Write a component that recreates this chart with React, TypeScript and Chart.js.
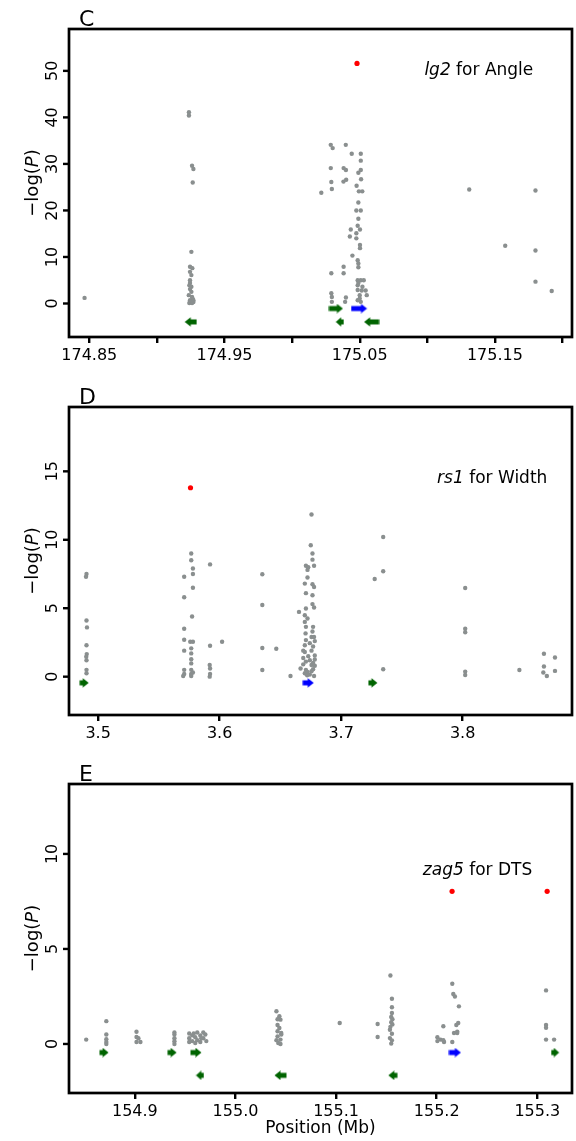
import React, { useEffect, useRef } from "react";
import { Chart, registerables } from "chart.js";

Chart.register(...registerables);

const FONT = '"DejaVu Sans", "Liberation Sans", Arial, sans-serif';
const GRAY = "#8a8f8f";
const RED = "#ff0000";
const BLUE = "#0000ff";
const GREEN = "#006400";

// ---------------- Panel C : lg2 for Angle ----------------
const cGrayX = [
  174.8465,
  174.9237, 174.9237, 174.926, 174.927, 174.9265, 174.9255, 174.9245, 174.9262, 174.9245, 174.9255,
  174.9245, 174.9245, 174.924, 174.9255, 174.9245, 174.9255, 174.9236, 174.926, 174.9265, 174.9245,
  174.927, 174.925, 174.927, 174.924, 174.926,
  175.0286, 175.03, 175.0397, 175.0441, 175.0508, 175.0508, 175.0286, 175.0381, 175.0398, 175.049,
  175.0508, 175.051, 175.029, 175.038, 175.04, 175.0294, 175.0216, 175.0477, 175.0494, 175.0519,
  175.049, 175.0475, 175.0508, 175.049, 175.0485, 175.0502, 175.0434, 175.0475, 175.0427, 175.0475,
  175.0502, 175.0502, 175.0446, 175.0485, 175.049, 175.049, 175.0381, 175.0381, 175.029, 175.0485,
  175.0508, 175.053, 175.0485, 175.052, 175.0485, 175.0515, 175.0544, 175.05, 175.0552, 175.029,
  175.0294, 175.0398, 175.0392, 175.0485, 175.0508, 175.0294, 175.049, 175.05,
  175.131, 175.1576, 175.18, 175.18, 175.18, 175.192,
];
const cGrayY = [
  1.2,
  41.1, 40.4, 29.6, 28.9, 26.0, 11.1, 7.9, 7.6, 6.8, 6.1,
  5.0, 4.4, 3.9, 3.6, 3.1, 2.5, 1.8, 1.4, 1.0, 0.7,
  0.7, 0.4, 0.3, 0.1, 0.1,
  34.1, 33.4, 34.1, 32.2, 32.2, 30.7, 29.1, 29.1, 28.7, 28.1,
  28.7, 26.7, 26.1, 26.2, 26.6, 24.6, 23.8, 25.3, 24.1, 24.1,
  21.7, 20.0, 20.0, 18.2, 16.7, 15.9, 15.9, 15.1, 14.4, 14.0,
  12.6, 11.9, 10.3, 9.3, 8.6, 7.8, 7.9, 6.5, 6.5, 5.0,
  5.0, 5.0, 3.9, 3.6, 2.9, 2.8, 2.8, 1.8, 1.8, 2.2,
  1.4, 1.3, 0.35, 0.7, 0.35, 0.35, 4.4, 1.1,
  24.5, 12.4, 24.3, 11.4, 4.7, 2.7,
];
const cRedX = [175.048];
const cRedY = [51.6];
const cBlueX = [175.0495];
const cBlueY = [-1.08];
const cBlueLen = [0.0118];
const cGreenRightX = [175.0324];
const cGreenRightY = [-1.08];
const cGreenRightLen = [0.0103];
const cGreenLeftX = [174.925, 175.0353, 175.0588];
const cGreenLeftY = [-3.96, -3.96, -3.96];
const cGreenLeftLen = [0.0086, 0.0061, 0.0108];
const cXTicks = [174.85, 174.9, 174.95, 175.0, 175.05, 175.1, 175.15, 175.2];
const cXLabels = ["174.85", "174.95", "175.05", "175.15"];
const cYTicks = [0, 10, 20, 30, 40, 50];

// ---------------- Panel D : rs1 for Width ----------------
const dGrayX = [
  3.4904, 3.49, 3.4904, 3.4908, 3.4904, 3.4906, 3.4902, 3.4904, 3.4904, 3.4904,
  3.5708, 3.5708, 3.5708, 3.5708, 3.5708, 3.5708, 3.5708, 3.57,
  3.5766, 3.5766, 3.578, 3.578, 3.578, 3.5773, 3.5758, 3.578, 3.5766, 3.5766, 3.5766, 3.5766, 3.5766, 3.5766, 3.578, 3.5766,
  3.5921, 3.5921, 3.5918, 3.5921, 3.5921, 3.5918,
  3.602,
  3.6351, 3.6351, 3.6351, 3.6351,
  3.6466, 3.6583,
  3.6756, 3.675, 3.6764, 3.6764, 3.671, 3.6729, 3.6777, 3.6723, 3.6723, 3.6701,
  3.6764, 3.6777, 3.671, 3.6764, 3.6764, 3.6777, 3.6653, 3.671, 3.6701, 3.6723,
  3.671, 3.6769, 3.6707, 3.6756, 3.6777, 3.671, 3.6742, 3.6769, 3.6701, 3.6756,
  3.6783, 3.6688, 3.671, 3.6742, 3.6688, 3.6756, 3.6783, 3.6666, 3.671, 3.6769,
  3.6701, 3.6742, 3.6777, 3.672, 3.6701, 3.6783, 3.6729, 3.6769, 3.6723, 3.6688,
  3.6764, 3.6701, 3.6783, 3.6756,
  3.7276, 3.7346, 3.7346, 3.7346,
  3.8021, 3.8021, 3.8021, 3.8021, 3.8021,
  3.8467,
  3.8669, 3.8669, 3.8664, 3.8693,
  3.876, 3.876,
];
const dGrayY = [
  7.5, 7.3, 4.1, 3.6, 2.3, 1.65, 1.45, 1.2, 0.5, 0.25,
  7.3, 5.8, 3.5, 2.7, 1.9, 0.5, 0.2, 0.05,
  9.0, 8.5, 7.9, 7.5, 6.5, 4.4, 2.55, 2.55, 2.07, 1.7, 1.27, 0.97, 0.5, 0.2, 0.3, 0.05,
  8.2, 2.26, 0.85, 0.6, 0.2, 0.0,
  2.55,
  7.48, 5.24, 2.09, 0.49,
  2.04, 0.05,
  11.85, 9.6, 9.0, 8.55, 8.1, 8.0, 8.1, 7.8, 7.24, 6.8,
  6.75, 6.55, 6.1, 5.95, 5.3, 5.05, 4.73, 4.98, 4.49, 4.25,
  3.64, 3.64, 3.16, 2.9, 2.9, 2.67, 2.45, 2.2, 1.8, 1.9,
  1.55, 1.36, 1.1, 1.2, 0.9, 0.85, 0.8, 0.6, 0.5, 0.55,
  0.25, 0.15, 0.05, 0.1, 2.3, 2.6, 1.5, 1.0, 0.35, 1.9,
  3.3, 4.0, 1.25, 0.4,
  7.14, 10.2, 7.7, 0.54,
  6.48, 3.5, 3.25, 0.37, 0.12,
  0.49,
  1.67, 0.74, 0.3, 0.05,
  1.4, 0.42,
];
const dRedX = [3.576];
const dRedY = [13.8];
const dBlueX = [3.6729];
const dBlueY = [-0.45];
const dBlueLen = [0.009];
const dGreenRightX = [3.4885, 3.7261];
const dGreenRightY = [-0.45, -0.45];
const dGreenRightLen = [0.007, 0.0072];
const dGreenLeftX: number[] = [];
const dGreenLeftY: number[] = [];
const dGreenLeftLen: number[] = [];
const dXTicks = [3.5, 3.6, 3.7, 3.8];
const dXLabels = ["3.5", "3.6", "3.7", "3.8"];
const dYTicks = [0, 5, 10, 15];

// ---------------- Panel E : zag5 for DTS ----------------
const eGrayX = [
  154.8516,
  154.8716, 154.8716, 154.8716, 154.8716, 154.8716,
  154.9016, 154.9016, 154.9016, 154.9055, 154.9035,
  154.9393, 154.9393, 154.9393, 154.9393, 154.9393,
  154.954, 154.954, 154.954, 154.957, 154.957, 154.96, 154.96, 154.962, 154.962, 154.965,
  154.965, 154.968, 154.968, 154.97, 154.971, 154.9585, 154.966,
  155.0407, 155.0436, 155.0447, 155.0418, 155.0436, 155.0418, 155.0455, 155.0418, 155.0447, 155.0425,
  155.0447, 155.0418, 155.0455, 155.0407,
  155.1036,
  155.1413, 155.1413,
  155.154, 155.1555, 155.1555, 155.1555, 155.1548, 155.1548, 155.156, 155.1535, 155.1555, 155.1535,
  155.1555, 155.1548, 155.154, 155.156,
  155.2066, 155.2007, 155.2039, 155.2073, 155.2007, 155.2155, 155.2165, 155.2181, 155.2221, 155.2214,
  155.2195, 155.2204, 155.2172, 155.2204, 155.2155, 155.2066,
  155.3087, 155.3087, 155.3087, 155.3087, 155.3167,
];
const eGrayY = [
  0.23,
  1.2, 0.5, 0.25, 0.1, 0.0,
  0.64, 0.37, 0.1, 0.1, 0.3,
  0.61, 0.5, 0.3, 0.14, 0.0,
  0.55, 0.3, 0.1, 0.45, 0.15, 0.35, 0.05, 0.6, 0.2, 0.45,
  0.1, 0.6, 0.3, 0.5, 0.15, 0.55, 0.3,
  1.72, 1.46, 1.28, 1.0, 0.84, 0.67, 0.58, 0.4, 0.23, 0.05,
  0.0, 1.3, 0.5, 0.2,
  1.1,
  1.05, 0.37,
  3.6, 2.38, 1.93, 1.63, 1.42, 1.14, 1.03, 0.75, 0.54, 0.31,
  0.19, 0.02, 0.9, 1.3,
  0.93, 0.35, 0.23, 0.1, 0.15, 3.17, 2.63, 2.5, 1.98, 1.1,
  1.0, 0.65, 0.58, 0.58, 0.1, 0.2,
  2.82, 1.0, 0.85, 0.23, 0.23,
];
const eRedX = [155.2153, 155.3098];
const eRedY = [8.03, 8.03];
const eBlueX = [155.2181];
const eBlueY = [-0.45];
const eBlueLen = [0.0116];
const eGreenRightX = [154.8693, 154.937, 154.9607, 155.3177];
const eGreenRightY = [-0.45, -0.45, -0.45, -0.45];
const eGreenRightLen = [0.0092, 0.0089, 0.0109, 0.0082];
const eGreenLeftX = [154.9647, 155.0447, 155.1564];
const eGreenLeftY = [-1.65, -1.65, -1.65];
const eGreenLeftLen = [0.0079, 0.0116, 0.0086];
const eXTicks = [154.9, 155.0, 155.1, 155.2, 155.3];
const eXLabels = ["154.9", "155.0", "155.1", "155.2", "155.3"];
const eYTicks = [0, 5, 10];

const zip = (xs: number[], ys: number[]) => xs.map((x, i) => ({ x, y: ys[i] }));
const zipLen = (xs: number[], ys: number[], ls: number[]) => xs.map((x, i) => ({ x, y: ys[i], len: ls[i] }));

const arrowCache = new Map<string, HTMLCanvasElement>();
function makeArrow(color: string, dir: "left" | "right", wIn: number) {
  const W = Math.max(7, Math.round(wIn));
  const key = `${color}|${dir}|${W}`;
  const hit = arrowCache.get(key);
  if (hit) return hit;
  const H = 10;
  const c = document.createElement("canvas");
  c.width = W + 1;
  c.height = H;
  const g = c.getContext("2d")!;
  const cy = H / 2;
  const hl = Math.min(5.5, W * 0.6);
  const st = 2.6;
  const hh = 4.7;
  const pts = [
    [0.5, cy - st],
    [W - hl, cy - st],
    [W - hl, cy - hh],
    [W + 0.5, cy],
    [W - hl, cy + hh],
    [W - hl, cy + st],
    [0.5, cy + st],
  ];
  g.fillStyle = color;
  g.beginPath();
  pts.forEach(([x, y], i) => {
    const px = dir === "right" ? x : W + 1 - x;
    if (i === 0) g.moveTo(px, y);
    else g.lineTo(px, y);
  });
  g.closePath();
  g.fill();
  arrowCache.set(key, c);
  return c;
}

function arrowStyle(color: string, dir: "left" | "right") {
  return (ctx: any) => {
    const raw = ctx.raw;
    const xs = ctx.chart.scales.x;
    if (!raw || !xs) return "circle";
    const w = Math.abs(xs.getPixelForValue(raw.x + raw.len / 2) - xs.getPixelForValue(raw.x - raw.len / 2));
    return makeArrow(color, dir, w);
  };
}

type Part = { t: string; i: boolean };
function drawParts(ctx: CanvasRenderingContext2D, parts: Part[], size: number, x: number, y: number, align: "left" | "center" | "right") {
  const fonts = parts.map((p) => `${p.i ? "italic " : ""}${size}px ${FONT}`);
  const widths = parts.map((p, k) => {
    ctx.font = fonts[k];
    return ctx.measureText(p.t).width;
  });
  const total = widths.reduce((s, v) => s + v, 0);
  let cx = align === "left" ? x : align === "center" ? x - total / 2 : x - total;
  ctx.textAlign = "left";
  ctx.textBaseline = "alphabetic";
  parts.forEach((p, k) => {
    ctx.font = fonts[k];
    ctx.fillText(p.t, cx, y);
    cx += widths[k];
  });
}

const decorPlugin = {
  id: "decor",
  afterDraw(chart: any, _args: any, o: any) {
    const { ctx, chartArea: a } = chart;
    const ys = chart.scales.y;
    ctx.save();
    ctx.fillStyle = "#000";
    ctx.strokeStyle = "#000";
    ctx.lineWidth = 2.4;
    ys.ticks.forEach((t: any) => {
      const py = ys.getPixelForValue(t.value);
      ctx.beginPath();
      ctx.moveTo(a.left - 6, py);
      ctx.lineTo(a.left, py);
      ctx.stroke();
      ctx.save();
      ctx.translate(a.left - 12, py);
      ctx.rotate(-Math.PI / 2);
      ctx.font = `${o.tickSize}px ${FONT}`;
      ctx.textAlign = "center";
      ctx.textBaseline = "alphabetic";
      ctx.fillText(String(t.value), 0, 0);
      ctx.restore();
    });
    ctx.lineWidth = 2.7;
    ctx.strokeRect(a.left, a.top, a.right - a.left, a.bottom - a.top);
    ctx.save();
    ctx.translate(38, (a.top + a.bottom) / 2);
    ctx.rotate(-Math.PI / 2);
    drawParts(ctx, [
      { t: "\u2212log(", i: false },
      { t: "P", i: true },
      { t: ")", i: false },
    ], o.titleSize, 0, 0, "center");
    ctx.restore();
    ctx.font = `${o.letterSize}px ${FONT}`;
    ctx.textAlign = "left";
    ctx.textBaseline = "alphabetic";
    ctx.fillText(o.letter, a.left + 10, a.top - 3.5);
    drawParts(ctx, [
      { t: o.gene, i: true },
      { t: " for " + o.trait, i: false },
    ], o.annoSize, a.left + o.annoRight * (a.right - a.left), a.top + o.annoBase, "right");
    if (o.xTitle) {
      ctx.font = `${o.xTitleSize}px ${FONT}`;
      ctx.textAlign = "center";
      ctx.fillText(o.xTitle, (a.left + a.right) / 2, a.bottom + 40);
    }
    ctx.restore();
  },
};

type Series = [number[], number[]];
type ArrowSeries = [number[], number[], number[]];
type PanelDef = {
  letter: string;
  gene: string;
  trait: string;
  top: number;
  height: number;
  padTop: number;
  xMin: number;
  xMax: number;
  xTicks: number[];
  xDec: number;
  xLabels: string[];
  yMin: number;
  yMax: number;
  yTicks: number[];
  gray: Series;
  red: Series;
  blue: ArrowSeries;
  greenR: ArrowSeries;
  greenL: ArrowSeries;
  annoRight: number;
  annoBase: number;
  xTitle?: string;
};

const panelDefs: PanelDef[] = [
  {
    letter: "C", gene: "lg2", trait: "Angle", top: 0, height: 378, padTop: 29,
    xMin: 174.835, xMax: 175.207, xTicks: cXTicks, xDec: 2, xLabels: cXLabels,
    yMin: -7.2, yMax: 59, yTicks: cYTicks,
    gray: [cGrayX, cGrayY], red: [cRedX, cRedY], blue: [cBlueX, cBlueY, cBlueLen],
    greenR: [cGreenRightX, cGreenRightY, cGreenRightLen], greenL: [cGreenLeftX, cGreenLeftY, cGreenLeftLen],
    annoRight: 0.923, annoBase: 46,
  },
  {
    letter: "D", gene: "rs1", trait: "Width", top: 378, height: 378, padTop: 29,
    xMin: 3.476, xMax: 3.89, xTicks: dXTicks, xDec: 1, xLabels: dXLabels,
    yMin: -2.8, yMax: 19.7, yTicks: dYTicks,
    gray: [dGrayX, dGrayY], red: [dRedX, dRedY], blue: [dBlueX, dBlueY, dBlueLen],
    greenR: [dGreenRightX, dGreenRightY, dGreenRightLen], greenL: [dGreenLeftX, dGreenLeftY, dGreenLeftLen],
    annoRight: 0.951, annoBase: 76,
  },
  {
    letter: "E", gene: "zag5", trait: "DTS", top: 756, height: 385, padTop: 28,
    xMin: 154.8345, xMax: 155.3345, xTicks: eXTicks, xDec: 1, xLabels: eXLabels,
    yMin: -2.58, yMax: 13.68, yTicks: eYTicks,
    gray: [eGrayX, eGrayY], red: [eRedX, eRedY], blue: [eBlueX, eBlueY, eBlueLen],
    greenR: [eGreenRightX, eGreenRightY, eGreenRightLen], greenL: [eGreenLeftX, eGreenLeftY, eGreenLeftLen],
    annoRight: 0.921, annoBase: 91, xTitle: "Position (Mb)",
  },
];

function Panel({ def }: { def: PanelDef }) {
  const ref = useRef<HTMLCanvasElement>(null);
  useEffect(() => {
    const chartAreaBottom = 337;
    const arrowCommon = { pointRadius: 1, borderWidth: 0, pointBorderWidth: 0 };
    const chart = new Chart(ref.current!, {
      type: "scatter",
      data: {
        datasets: [
          { data: zip(def.red[0], def.red[1]), backgroundColor: RED, pointRadius: 2.6, borderWidth: 0, pointBorderWidth: 0 },
          { data: zipLen(def.blue[0], def.blue[1], def.blue[2]), pointStyle: arrowStyle(BLUE, "right"), ...arrowCommon },
          { data: zipLen(def.greenR[0], def.greenR[1], def.greenR[2]), pointStyle: arrowStyle(GREEN, "right"), ...arrowCommon },
          { data: zipLen(def.greenL[0], def.greenL[1], def.greenL[2]), pointStyle: arrowStyle(GREEN, "left"), ...arrowCommon },
          { data: zip(def.gray[0], def.gray[1]), backgroundColor: GRAY, pointRadius: 2.2, borderWidth: 0, pointBorderWidth: 0 },
        ],
      },
      options: {
        animation: false,
        responsive: false,
        events: [],
        clip: false,
        layout: { padding: { top: def.padTop, right: 2, left: 0, bottom: 0 } },
        plugins: {
          legend: { display: false },
          tooltip: { enabled: false },
          decor: {
            letter: def.letter, gene: def.gene, trait: def.trait,
            tickSize: 16, titleSize: 18, letterSize: 22, annoSize: 17, xTitleSize: 17,
            annoRight: def.annoRight, annoBase: def.annoBase, xTitle: def.xTitle,
          },
        } as any,
        scales: {
          x: {
            type: "linear",
            min: def.xMin,
            max: def.xMax,
            afterBuildTicks: (s: any) => {
              s.ticks = def.xTicks.map((v) => ({ value: v }));
            },
            afterFit: (s: any) => {
              s.height = def.height - chartAreaBottom;
              s.paddingLeft = 0;
              s.paddingRight = 0;
            },
            border: { display: false },
            grid: { drawOnChartArea: false, drawTicks: true, tickLength: 6, color: "#000", lineWidth: 2.4 },
            ticks: {
              autoSkip: false,
              maxRotation: 0,
              minRotation: 0,
              padding: 3,
              color: "#000",
              font: { family: FONT, size: 16 },
              callback: (v: any) => {
                const s = Number(v).toFixed(def.xDec);
                return def.xLabels.includes(s) ? s : "";
              },
            },
          },
          y: {
            type: "linear",
            min: def.yMin,
            max: def.yMax,
            afterBuildTicks: (s: any) => {
              s.ticks = def.yTicks.map((v) => ({ value: v }));
            },
            afterFit: (s: any) => {
              s.width = 69;
              s.paddingTop = 0;
              s.paddingBottom = 0;
            },
            border: { display: false },
            grid: { display: false },
            ticks: { display: false },
          },
        },
      },
      plugins: [decorPlugin as any],
    } as any);
    return () => chart.destroy();
  }, [def]);
  return (
    <canvas
      ref={ref}
      width={576}
      height={def.height}
      style={{ position: "absolute", left: 0, top: def.top, width: 576, height: def.height }}
    />
  );
}

export default function App() {
  return (
    <div style={{ position: "absolute", left: 0, top: 0, width: 576, height: 1141, background: "#fff" }}>
      {panelDefs.map((d) => (
        <Panel key={d.letter} def={d} />
      ))}
    </div>
  );
}
